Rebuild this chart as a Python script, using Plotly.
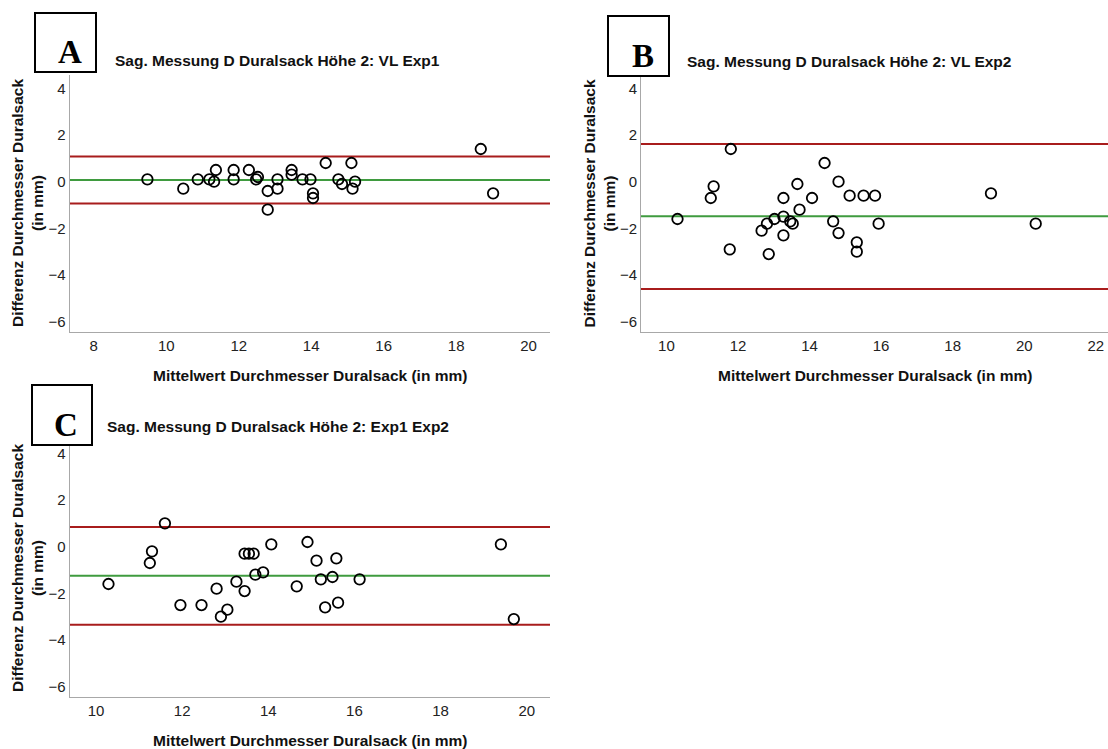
import plotly.graph_objects as go

W, H = 1108, 749

# Panel A: VL vs Exp1
a_mean = [9.48, 10.47, 10.87, 11.19, 11.37, 11.32, 11.86, 11.86, 12.28, 12.48,
          12.53, 12.80, 12.80, 13.07, 13.07, 13.46, 13.46, 13.76, 13.98, 14.05,
          14.05, 14.40, 14.75, 14.85, 15.11, 15.14, 15.21, 18.68, 19.02]
a_diff = [0.1, -0.3, 0.1, 0.1, 0.5, 0.0, 0.5, 0.1, 0.5, 0.1,
          0.2, -0.4, -1.2, 0.1, -0.3, 0.5, 0.3, 0.1, 0.1, -0.5,
          -0.7, 0.8, 0.1, -0.1, 0.8, -0.3, 0.0, 1.4, -0.5]
a_lines = {"upper": 1.08, "mean": 0.07, "lower": -0.93}

# Panel B: VL vs Exp2
b_mean = [10.31, 11.24, 11.32, 11.80, 11.77, 12.66, 12.81, 12.86, 13.02, 13.27,
          13.27, 13.27, 13.46, 13.53, 13.66, 13.72, 14.07, 14.42, 14.66, 14.81,
          14.81, 15.12, 15.32, 15.32, 15.51, 15.83, 15.93, 19.07, 20.32]
b_diff = [-1.6, -0.7, -0.2, 1.4, -2.9, -2.1, -1.8, -3.1, -1.6, -0.7,
          -1.5, -2.3, -1.7, -1.8, -0.1, -1.2, -0.7, 0.8, -1.7, 0.0,
          -2.2, -0.6, -2.6, -3.0, -0.6, -0.6, -1.8, -0.5, -1.8]
b_lines = {"upper": 1.61, "mean": -1.48, "lower": -4.6}

# Panel C: Exp1 vs Exp2
c_mean = [10.29, 11.25, 11.30, 11.60, 11.96, 12.45, 12.80, 12.90, 13.05, 13.26,
          13.45, 13.55, 13.66, 13.45, 13.70, 13.88, 14.07, 14.66, 14.91, 15.12,
          15.22, 15.32, 15.49, 15.58, 15.62, 16.12, 19.40, 19.70]
c_diff = [-1.6, -0.7, -0.2, 1.0, -2.5, -2.5, -1.8, -3.0, -2.7, -1.5,
          -0.3, -0.3, -0.3, -1.9, -1.2, -1.1, 0.1, -1.7, 0.2, -0.6,
          -1.4, -2.6, -1.3, -0.5, -2.4, -1.4, 0.1, -3.1]
c_lines = {"upper": 0.84, "mean": -1.25, "lower": -3.35}

titles = ["Sag. Messung D Duralsack Höhe 2: VL Exp1",
          "Sag. Messung D Duralsack Höhe 2: VL Exp2",
          "Sag. Messung D Duralsack Höhe 2: Exp1 Exp2"]
panel_letters = ["A", "B", "C"]
x_title = "Mittelwert Durchmesser Duralsack (in mm)"
y_title = "Differenz Durchmesser Duralsack<br>(in mm)"
y_ticks = [4, 2, 0, -2, -4, -6]
x_ticks = [[8, 10, 12, 14, 16, 18, 20],
           [10, 12, 14, 16, 18, 20, 22],
           [10, 12, 14, 16, 18, 20]]

# pixel layout of each panel: plot box (left, right, top, bottom), x range,
# letter box (left, right, top, bottom), title start
panels = [
    dict(box=(69.5, 550, 75, 332), xr=(7.33, 20.59), letter_box=(35, 96, 13, 72),
         title_xy=(113, 61)),
    dict(box=(641, 1108, 75, 332), xr=(9.29, 22.34), letter_box=(608, 669, 16, 76),
         title_xy=(685, 62)),
    dict(box=(69.5, 550, 440, 697), xr=(9.385, 20.54), letter_box=(32, 92, 385, 445),
         title_xy=(105, 427)),
]
y_range = (-6.44, 4.57)

FONT = "Liberation Sans, Arial, sans-serif"
SERIF = "Liberation Serif, Times New Roman, serif"
RED = "#a81c1c"
GREEN = "#3f9b3f"
AXIS = "#a8a8a8"


def px(xp):
    return xp / W


def py(yp):
    return 1 - yp / H


fig = go.Figure()
shapes = []
annotations = []

data = [(a_mean, a_diff, a_lines), (b_mean, b_diff, b_lines), (c_mean, c_diff, c_lines)]

for i, ((xm, yd, lines), p) in enumerate(zip(data, panels)):
    n = i + 1
    xa = "x" if n == 1 else f"x{n}"
    ya = "y" if n == 1 else f"y{n}"
    l, r, t, b = p["box"]

    fig.add_trace(go.Scatter(
        x=xm, y=yd, mode="markers", xaxis=xa, yaxis=ya, showlegend=False,
        marker=dict(symbol="circle-open", size=10.5, color="black",
                    line=dict(width=1.8)),
        cliponaxis=False,
    ))

    for key, col in (("upper", RED), ("mean", GREEN), ("lower", RED)):
        shapes.append(dict(type="line", xref=f"{xa} domain", yref=ya,
                           x0=0, x1=1, y0=lines[key], y1=lines[key],
                           line=dict(color=col, width=2), layer="below"))

    axis_common = dict(showgrid=False, zeroline=False, showline=True,
                       linecolor=AXIS, linewidth=1, ticks="",
                       tickfont=dict(family=FONT, size=15, color="#222"))
    fig.update_layout(**{
        ("xaxis" if n == 1 else f"xaxis{n}"): dict(
            domain=[px(l), px(r)], range=list(p["xr"]), anchor=ya,
            tickvals=x_ticks[i], **axis_common),
        ("yaxis" if n == 1 else f"yaxis{n}"): dict(
            domain=[py(b), py(t)], range=list(y_range), anchor=xa,
            tickvals=y_ticks, **axis_common),
    })

    # panel title
    tx, ty = p["title_xy"]
    annotations.append(dict(text=titles[i], x=px(tx), y=py(ty), xref="paper", yref="paper",
                            xanchor="left", yanchor="middle", showarrow=False,
                            font=dict(family=FONT, size=15.5, color="#111", weight="bold")))
    # axis titles
    annotations.append(dict(text=x_title, x=px((l + r) / 2), y=py(b + 43),
                            xref="paper", yref="paper",
                            xanchor="center", yanchor="middle", showarrow=False,
                            font=dict(family=FONT, size=15.5, color="#111", weight="bold")))
    annotations.append(dict(text=y_title, x=px(l - 42), y=py((t + b) / 2), xref="paper", yref="paper",
                            xanchor="center", yanchor="middle", showarrow=False, textangle=-90,
                            font=dict(family=FONT, size=15.5, color="#111", weight="bold")))

    # lettered box
    bl, br, bt, bb = p["letter_box"]
    shapes.append(dict(type="rect", xref="paper", yref="paper",
                       x0=px(bl), x1=px(br), y0=py(bb), y1=py(bt),
                       fillcolor="white", line=dict(color="black", width=2), layer="above"))
    annotations.append(dict(text=panel_letters[i], x=px((bl + br) / 2 + 4), y=py(bb - 20),
                            xref="paper", yref="paper", xanchor="center", yanchor="middle",
                            showarrow=False,
                            font=dict(family=SERIF, size=33, color="black", weight="bold")))

fig.update_layout(
    width=W, height=H, margin=dict(l=0, r=0, t=0, b=0),
    paper_bgcolor="white", plot_bgcolor="white",
    shapes=shapes, annotations=annotations,
    font=dict(family=FONT),
)

fig.write_html("out.html", config={"displayModeBar": False})
